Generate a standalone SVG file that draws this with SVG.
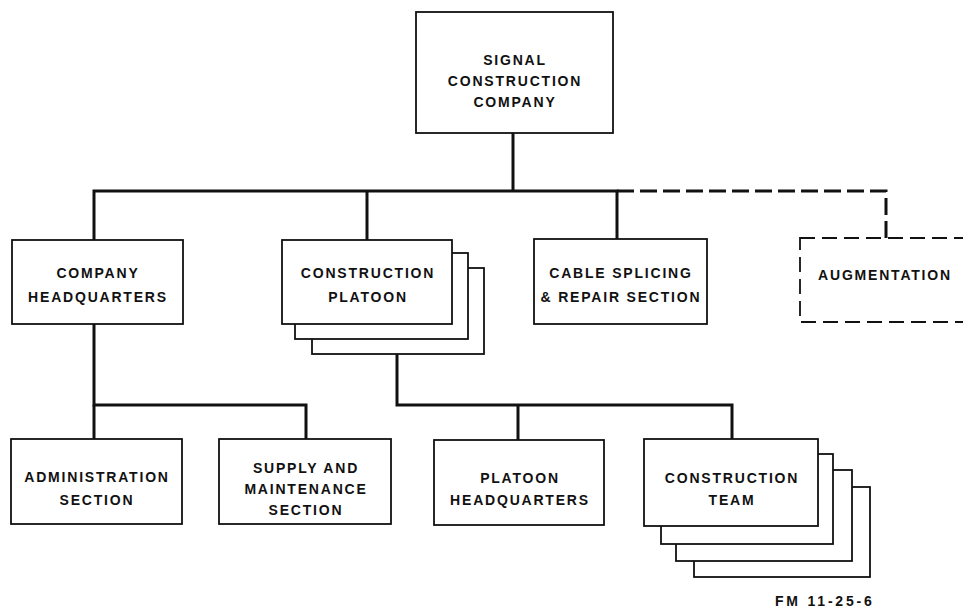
<svg xmlns="http://www.w3.org/2000/svg" width="963" height="609" viewBox="0 0 963 609">
<style>
  .box{fill:#fff;stroke:#111;stroke-width:1.8}
  .dbox{fill:none;stroke:#111;stroke-width:1.8;stroke-dasharray:15 7}
  .wire{fill:none;stroke:#111;stroke-width:3;stroke-linejoin:miter}
  .dwire{fill:none;stroke:#111;stroke-width:3;stroke-dasharray:17 6}
  text{font-family:"Liberation Sans",Arial,sans-serif;font-weight:bold;font-size:14px;letter-spacing:1.8px;fill:#111;text-anchor:middle}
  .fm{font-size:14px;letter-spacing:2.8px;text-anchor:start}
</style>
<rect width="963" height="609" fill="#fff"/>
<g id="connectors">
  <path class="wire" d="M513,133 V191"/>
  <path class="wire" d="M94,240 V191 H617 V240"/>
  <path class="wire" d="M367,191 V240"/>
  <path class="dwire" d="M617,191 H886 V238"/>
  <path class="wire" d="M94,324 V405 H306 V439"/>
  <path class="wire" d="M94,405 V439"/>
  <path class="wire" d="M397,354 V405 H732 V439"/>
  <path class="wire" d="M518,405 V440"/>
</g>
<g id="signal-construction-company">
  <rect class="box" x="416" y="12" width="197" height="121"/>
  <text x="515" y="65">SIGNAL</text>
  <text x="515" y="86">CONSTRUCTION</text>
  <text x="515" y="107">COMPANY</text>
</g>
<g id="company-headquarters">
  <rect class="box" x="12" y="240" width="171" height="84"/>
  <text x="98" y="278">COMPANY</text>
  <text x="98" y="302">HEADQUARTERS</text>
</g>
<g id="construction-platoon">
  <rect class="box" x="312" y="268" width="172" height="86"/>
  <rect class="box" x="295" y="253" width="173" height="86"/>
  <rect class="box" x="282" y="240" width="170" height="84"/>
  <text x="368" y="278">CONSTRUCTION</text>
  <text x="368" y="302">PLATOON</text>
</g>
<g id="cable-splicing">
  <rect class="box" x="534" y="239" width="173" height="85"/>
  <text x="621" y="278">CABLE SPLICING</text>
  <text x="621" y="302">&amp; REPAIR SECTION</text>
</g>
<g id="augmentation">
  <rect class="dbox" x="800" y="238" width="175" height="84"/>
  <text x="885" y="280">AUGMENTATION</text>
</g>
<g id="administration-section">
  <rect class="box" x="11" y="439" width="171" height="85"/>
  <text x="97" y="482">ADMINISTRATION</text>
  <text x="97" y="505">SECTION</text>
</g>
<g id="supply-maintenance-section">
  <rect class="box" x="219" y="439" width="172" height="85"/>
  <text x="306" y="473">SUPPLY AND</text>
  <text x="306" y="494">MAINTENANCE</text>
  <text x="306" y="515">SECTION</text>
</g>
<g id="platoon-headquarters">
  <rect class="box" x="434" y="440" width="170" height="85"/>
  <text x="520" y="483">PLATOON</text>
  <text x="520" y="505">HEADQUARTERS</text>
</g>
<g id="construction-team">
  <rect class="box" x="694" y="487" width="176" height="90"/>
  <rect class="box" x="676" y="470" width="176" height="91"/>
  <rect class="box" x="661" y="454" width="172" height="90"/>
  <rect class="box" x="644" y="439" width="174" height="87"/>
  <text x="732" y="483">CONSTRUCTION</text>
  <text x="732" y="505">TEAM</text>
</g>
<text class="fm" x="775" y="606">FM 11-25-6</text>
</svg>
